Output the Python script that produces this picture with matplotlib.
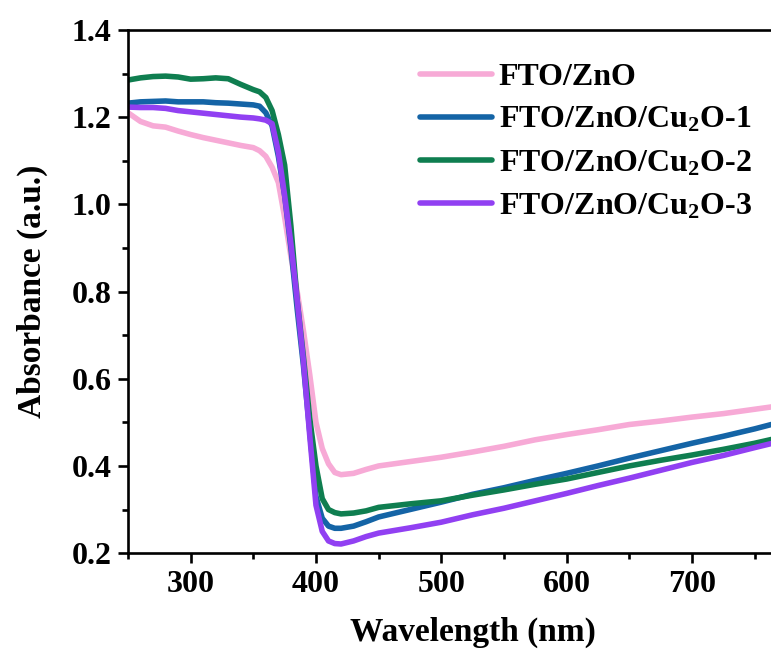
import matplotlib
matplotlib.use('Agg')
import matplotlib.pyplot as plt
from matplotlib.ticker import MultipleLocator

plt.rcParams['font.family'] = ['Liberation Serif', 'DejaVu Serif']
plt.rcParams['font.weight'] = 'bold'
plt.rcParams['mathtext.default'] = 'regular'

# wavelength grid (nm) shared by all spectra
wavelength = [250, 260, 270, 280, 290, 300, 310, 320, 330, 340, 350, 355, 360, 365,
              370, 375, 380, 385, 390, 395, 400, 405, 410, 415, 420, 430, 440, 450,
              475, 500, 525, 550, 575, 600, 625, 650, 675, 700, 725, 750, 770]

fto_zno = [1.21, 1.19, 1.18, 1.177, 1.168, 1.16, 1.153, 1.147, 1.141, 1.135, 1.13, 1.123,
           1.11, 1.085, 1.05, 0.97, 0.88, 0.80, 0.71, 0.61, 0.50, 0.44, 0.405, 0.385, 0.38,
           0.383, 0.392, 0.40, 0.41, 0.42, 0.432, 0.445, 0.46, 0.472, 0.483, 0.495, 0.503,
           0.512, 0.52, 0.53, 0.538]

cu2o_1 = [1.232, 1.235, 1.236, 1.237, 1.235, 1.235, 1.235, 1.233, 1.232, 1.23, 1.228, 1.225,
          1.21, 1.18, 1.11, 1.02, 0.90, 0.76, 0.63, 0.48, 0.33, 0.28, 0.262, 0.257, 0.257,
          0.262, 0.272, 0.283, 0.30, 0.317, 0.335, 0.35, 0.367, 0.383, 0.40, 0.418, 0.435,
          0.452, 0.468, 0.485, 0.50]

cu2o_2 = [1.285, 1.29, 1.293, 1.294, 1.292, 1.287, 1.288, 1.29, 1.288, 1.275, 1.263, 1.258,
          1.245, 1.215, 1.16, 1.09, 0.95, 0.78, 0.65, 0.51, 0.40, 0.325, 0.30, 0.293, 0.29,
          0.292, 0.297, 0.305, 0.313, 0.32, 0.333, 0.345, 0.358, 0.37, 0.385, 0.40, 0.413,
          0.425, 0.438, 0.452, 0.465]

cu2o_3 = [1.223, 1.222, 1.222, 1.22, 1.215, 1.212, 1.209, 1.206, 1.203, 1.2, 1.198, 1.196,
          1.193, 1.185, 1.12, 1.02, 0.91, 0.78, 0.64, 0.47, 0.31, 0.25, 0.228, 0.222, 0.221,
          0.228, 0.238, 0.246, 0.258, 0.271, 0.288, 0.303, 0.32, 0.337, 0.355, 0.372, 0.39,
          0.408, 0.424, 0.442, 0.456]

labels = ['FTO/ZnO', 'FTO/ZnO/Cu$_2$O-1', 'FTO/ZnO/Cu$_2$O-2', 'FTO/ZnO/Cu$_2$O-3']
colors = ['#F7AAD6', '#1464A6', '#0F7E50', '#9140F2']

fig = plt.figure(figsize=(7.71, 6.5), dpi=100)
# right edge of the frame lies outside the picture, as in the reference
ax = fig.add_axes([0.166, 0.149, 0.894, 0.805])

for ys, lab, c in zip([fto_zno, cu2o_1, cu2o_2, cu2o_3], labels, colors):
    ax.plot(wavelength, ys, color=c, lw=4.0, label=lab, solid_capstyle='round')

ax.set_xlim(250, 800)
ax.set_ylim(0.2, 1.4)
ax.xaxis.set_major_locator(MultipleLocator(100))
ax.xaxis.set_minor_locator(MultipleLocator(50))
ax.yaxis.set_major_locator(MultipleLocator(0.2))
ax.yaxis.set_minor_locator(MultipleLocator(0.1))
ax.set_xticks([300, 400, 500, 600, 700])
ax.set_yticklabels([f'{v:.1f}' for v in ax.get_yticks()])

for s in ax.spines.values():
    s.set_linewidth(1.9)
ax.tick_params(which='major', direction='out', length=7, width=1.9, labelsize=23, pad=5)
ax.tick_params(which='minor', direction='out', length=4, width=1.9)
for t in ax.get_xticklabels() + ax.get_yticklabels():
    t.set_fontweight('bold')

ax.set_xlabel('Wavelength (nm)', fontsize=24, fontweight='bold', labelpad=13)
ax.set_ylabel('Absorbance (a.u.)', fontsize=24, fontweight='bold', labelpad=17)

leg = ax.legend(loc='upper left', bbox_to_anchor=(0.424, 0.938), frameon=False,
                fontsize=23, handlelength=2.25, handletextpad=0.2, labelspacing=0.43,
                borderaxespad=0, borderpad=0)
for line in leg.get_lines():
    line.set_linewidth(4.0)

fig.savefig('out.png', dpi=100)
